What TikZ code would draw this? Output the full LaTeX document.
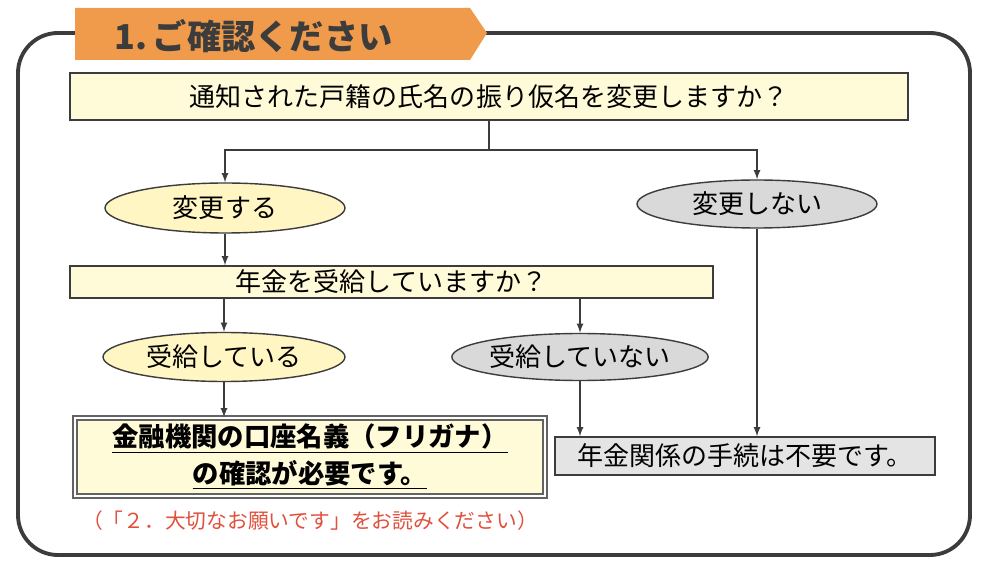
\documentclass[tikz,border=0pt]{standalone}
\usepackage{fontspec}
\setmainfont{Noto Sans CJK JP}
\usepackage{tikz}
\usetikzlibrary{shapes.geometric}
\definecolor{lineColor}{RGB}{60,60,60}
\definecolor{tabColor}{RGB}{240,155,75}
\definecolor{questionColor}{RGB}{255,251,216}
\definecolor{yesColor}{RGB}{255,246,196}
\definecolor{noColor}{RGB}{217,217,217}
\definecolor{resultGray}{RGB}{228,228,228}
\definecolor{noteColor}{RGB}{225,80,60}
\tikzstyle{flowchart} = [x = 0.02cm, y = -0.02cm]
\tikzstyle{frameLine} = [color=lineColor, line width=2.2pt, rounded corners = .8cm]
\tikzstyle{questionBox} = [draw=lineColor, fill=questionColor, thick, inner sep=0, font=\fontsize{14.8}{17}\selectfont]
\tikzstyle{answerYes} = [ellipse, draw=lineColor, fill=yesColor, thick, inner sep=0, font=\fontsize{14.8}{17}\selectfont]
\tikzstyle{answerNo} = [ellipse, draw=lineColor, fill=noColor, thick, inner sep=0, font=\fontsize{14.8}{17}\selectfont]
\tikzstyle{flow} = [color=lineColor, thick, -latex]
\tikzset{boxSize/.style 2 args={minimum width=#1cm, minimum height=#2cm}}
\begin{document}
\begin{tikzpicture}[flowchart]
  \useasboundingbox (0,0) rectangle (987,567);
  \draw [frameLine] (80,33) -| (18,555) -| (970,33) -- (480,33);
  \fill [tabColor] (75,8) -- (470,8) -- (487,33) -- (470,60) -- (75,60) -- cycle;
  \node [anchor=west, text=lineColor, font=\fontsize{19.5}{22}\selectfont\bfseries] (title) at (108,36) {1.\,ご確認ください};

  \node [questionBox, boxSize={16.76}{0.94}] (nameQ) at (489,96.5) {通知された戸籍の氏名の振り仮名を変更しますか？};
  \node [answerYes, boxSize={4.8}{1.0}] (change) at (225,208) {変更する};
  \node [answerNo, boxSize={4.8}{0.96}] (noChange) at (757,204) {変更しない};
  \node [questionBox, boxSize={12.86}{0.64}] (pensionQ) at (391.5,282) {年金を受給していますか？};
  \node [answerYes, boxSize={4.84}{0.98}] (receiving) at (224,357) {受給している};
  \node [answerNo, boxSize={4.8}{0.94}] (notReceiving) at (580,357) {受給していない};
  \node [questionBox, draw=lineColor!80, double=white, double distance=1.4pt, align=center, boxSize={9.4}{1.56},
    font=\fontsize{15}{21}\selectfont\bfseries] (checkName) at (310,457)
    {\underline{金融機関の口座名義（フリガナ）}\\\underline{の確認が必要です。}};
  \node [questionBox, fill=resultGray, boxSize={7.6}{0.76}] (noNeed) at (745,456) {年金関係の手続は不要です。};
  \node [text=noteColor, font=\fontsize{11.8}{14}\selectfont] (note) at (310,521) {（「２．大切なお願いです」をお読みください）};

  \coordinate (split) at (489,150);
  \draw [color=lineColor, thick] (nameQ.south) -- (split);
  \draw [flow] (split) -| (change.north);
  \draw [flow] (split) -| (noChange.north);
  \draw [flow] (change.south) -- (change.south |- pensionQ.north);
  \draw [flow] (pensionQ.south -| receiving.north) -- (receiving.north);
  \draw [flow] (pensionQ.south -| notReceiving.north) -- (notReceiving.north);
  \draw [flow] (receiving.south) -- (receiving.south |- checkName.north);
  \draw [flow] (notReceiving.south) -- (notReceiving.south |- noNeed.north);
  \draw [flow] (noChange.south) -- (noChange.south |- noNeed.north);
\end{tikzpicture}
\end{document}
